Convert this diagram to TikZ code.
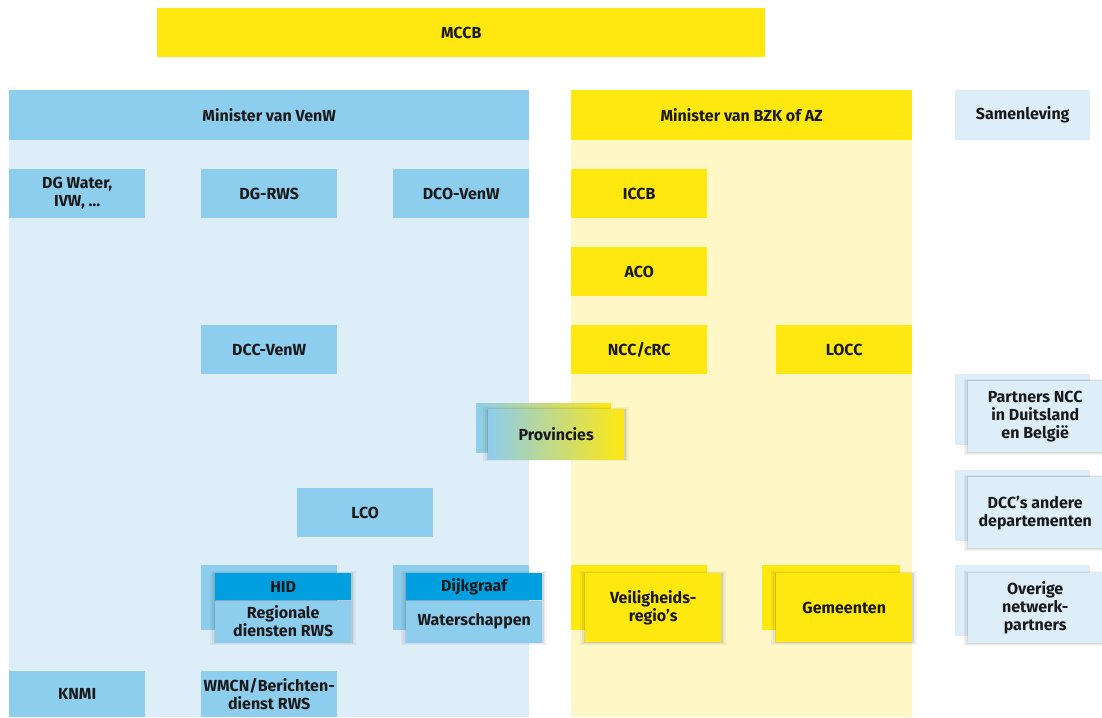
\documentclass[tikz,border=0pt]{standalone}
\usepackage{fontspec}
\setmainfont{Fira Sans}
\usetikzlibrary{positioning}
\usetikzlibrary{shadows}

\definecolor{rgeel}{HTML}{FFE80F}
\definecolor{rlichtgeel}{HTML}{FFF8C6}
\definecolor{rblauw}{HTML}{8DCDEE}
\definecolor{rlichtblauw}{HTML}{DDEEF9}
\definecolor{rdonkerblauw}{HTML}{00A0E0}

\begin{document}
\begin{tikzpicture}[x=1pt,y=-1pt,font=\bfseries\fontsize{16}{18}\selectfont,
					every node/.style={align=center,inner sep=0pt,text=black!90,anchor=north west}]
					\tikzstyle{box}=[minimum width=136pt,minimum height=49pt]
					\tikzstyle{blauw}=[box,fill=rblauw]
					\tikzstyle{geel}=[box,fill=rgeel]
					\tikzstyle{licht}=[box,fill=rlichtblauw]
					\tikzstyle{voor}=[general shadow={shadow scale=1.07,fill=black,opacity=0.04},
					                  general shadow={shadow scale=1.045,fill=black,opacity=0.05},
					                  general shadow={shadow scale=1.02,fill=black,opacity=0.08}]
					
					\useasboundingbox (0,0) rectangle (1102,717);
					
					% panelen
					\fill[rlichtblauw] (9,140) rectangle (529,717);
					\fill[rlichtgeel]  (571,140) rectangle (912,717);
					
					\node[geel,minimum width=608pt]  (MCCB) at (157,8)  {MCCB};
					\node[blauw,minimum width=520pt,minimum height=50pt] (VenW) at (9,90)   {Minister van VenW};
					\node[geel,minimum width=341pt,minimum height=50pt]  (BZK)  at (571,90) {Minister van BZK of AZ};
					\node[licht,minimum width=135pt,minimum height=50pt] (Samenleving) at (955,90) {Samenleving};
					
					\node[blauw] (DGWater) at (9,169)   {DG Water,\\IVW, \dots};
					\node[blauw] (DGRWS)   at (201,169) {DG-RWS};
					\node[blauw] (DCO)     at (393,169) {DCO-VenW};
					\node[geel]  (ICCB)    at (571,169) {ICCB};
					\node[geel]  (ACO)     at (571,247) {ACO};
					\node[blauw] (DCC)     at (201,325) {DCC-VenW};
					\node[geel]  (NCC)     at (571,325) {NCC/cRC};
					\node[geel]  (LOCC)    at (776,325) {LOCC};
					
					% provincies, van blauw naar geel
					\node[box,minimum width=135pt,left color=rblauw,right color=rgeel] (ProvAchter) at (476,403) {};
					\node[box,minimum height=50pt,left color=rblauw,right color=rgeel,voor] (Provincies) at (488,409) {Provincies};
					
					\node[blauw] (LCO) at (297,488) {LCO};
					
					% gestapelde kaders onderaan
					\node[blauw,minimum height=65pt] (HIDachter) at (201,565) {};
					\node[box,minimum height=69pt,voor] (HIDkader) at (215,573) {};
					\node[box,minimum height=27pt,fill=rdonkerblauw] (HID) at (215,573) {HID};
					\node[blauw,minimum height=42pt] (RWS) [below=0pt of HID] {Regionale\\diensten RWS};
					
					\node[blauw,minimum height=65pt] (DijkAchter) at (393,565) {};
					\node[box,minimum height=69pt,voor] (Dijkkader) at (406,573) {};
					\node[box,minimum height=27pt,fill=rdonkerblauw] (Dijkgraaf) at (406,573) {Dijkgraaf};
					\node[blauw,minimum height=42pt] (Waterschappen) [below=0pt of Dijkgraaf] {Waterschappen};
					
					\node[geel,minimum height=65pt] (VRachter) at (571,565) {};
					\node[geel,minimum height=69pt,voor] (VR) at (585,573) {Veiligheids-\\regio’s};
					\node[geel,minimum width=138pt,minimum height=65pt] (GemAchter) at (762,565) {};
					\node[geel,minimum height=69pt,voor] (Gemeenten) at (776,573) {Gemeenten};
					
					\node[licht,minimum width=135pt,minimum height=71pt] (PartAchter) at (955,374) {};
					\node[licht,minimum width=134pt,minimum height=71pt,voor] (Partners) at (968,381) {Partners NCC\\in Duitsland\\en België};
					\node[licht,minimum width=135pt,minimum height=71pt] (DCCsAchter) at (955,470) {};
					\node[licht,minimum width=134pt,minimum height=71pt,voor] (DCCs) at (968,477) {DCC’s andere\\departementen};
					\node[licht,minimum width=135pt,minimum height=71pt] (OverAchter) at (955,565) {};
					\node[licht,minimum width=134pt,minimum height=70pt,voor] (Overige) at (968,573) {Overige\\netwerk-\\partners};
					
					\node[blauw,minimum height=46pt] (KNMI) at (9,671)   {KNMI};
					\node[blauw,minimum height=46pt] (WMCN) at (201,671) {WMCN/Berichten-\\dienst RWS};
					\end{tikzpicture}
\end{document}
